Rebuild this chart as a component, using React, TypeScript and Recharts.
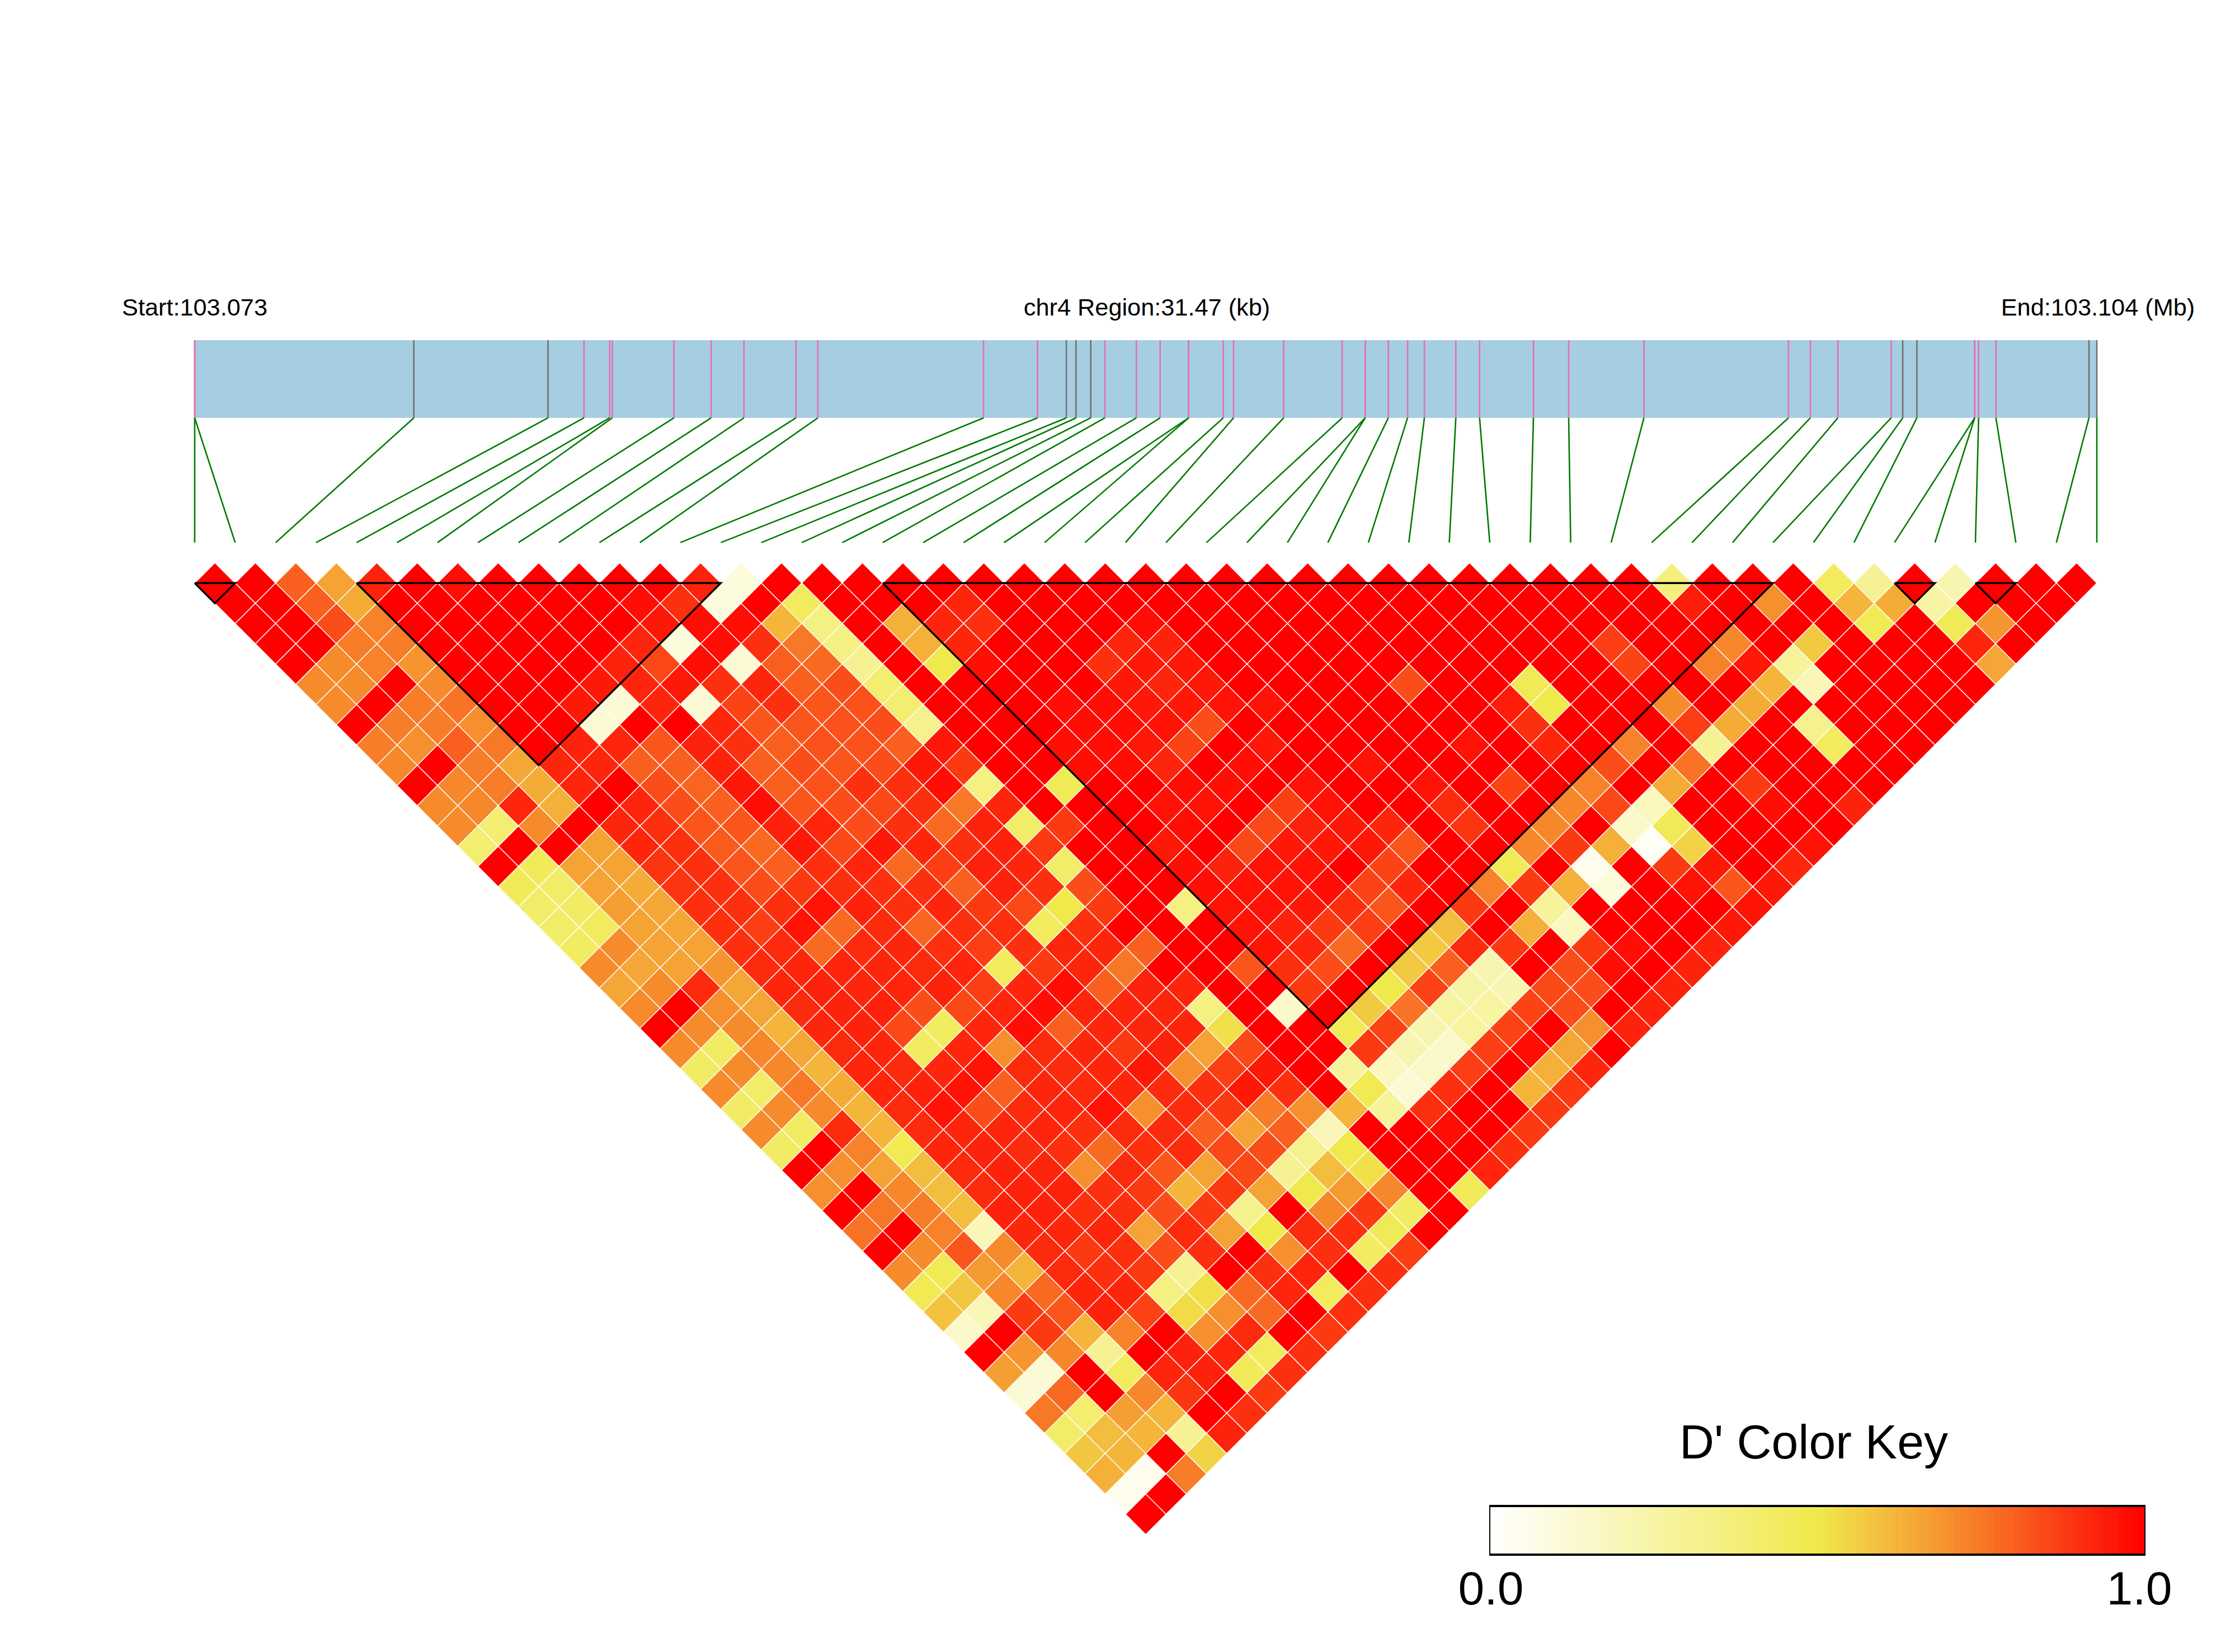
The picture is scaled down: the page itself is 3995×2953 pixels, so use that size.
import { BarChart, Bar, ReferenceArea, Scatter, ScatterChart, XAxis, YAxis, Rectangle } from 'recharts'

// SNP positions along the region, in kb from the region start
const regionKb = 31.47
const snpKb = [
  0, 0, 3.626, 5.846, 6.441, 6.866, 6.909, 7.929, 8.545, 9.087, 9.948, 10.309, 13.051, 13.943, 14.421, 14.581,
  14.825, 15.059, 15.58, 15.973, 16.444, 16.444, 17.018, 17.188, 18.017, 18.984, 19.366, 19.366, 19.748, 20.067,
  20.345, 20.865, 21.258, 22.149, 22.732, 23.977, 26.369, 26.731, 27.186, 28.069, 28.259, 28.493, 29.45, 29.45,
  29.515, 29.801, 31.34, 31.47,
]
const graySnps = [2, 3, 14, 15, 16, 40, 41, 46, 47]

// D' x 100, one row per SNP distance (lag 1 is the top row of the triangle)
const ldByLag = [
  [100,100,80,66,93,100,97,100,100,100,100,100,93,10,100,100,100,100,100,100,100,100,100,100,100,100,100,100,100,100,100,100,100,100,100,100,37,100,100,100,45,30,100,22,100,100,100],
  [100,100,80,64,100,100,100,100,100,100,97,90,10,100,45,100,100,100,92,100,100,100,100,100,100,100,100,100,100,100,100,100,100,100,100,100,94,100,70,100,62,64,25,100,100,100],
  [100,100,84,73,100,100,100,100,100,100,95,97,97,62,35,100,63,92,90,100,100,100,97,100,100,100,100,100,100,100,100,100,100,100,100,100,100,100,100,100,47,100,47,69,100],
  [100,100,74,74,100,100,100,100,100,92,10,97,90,75,35,100,63,92,100,100,100,92,93,100,100,100,100,100,100,100,100,100,100,87,100,100,72,100,57,100,100,100,92,100],
  [100,71,73,69,100,100,100,100,93,85,97,12,80,78,30,100,50,97,100,100,90,95,95,100,100,100,100,100,100,100,100,100,100,86,100,73,95,28,100,100,100,100,65],
  [71,71,100,71,100,100,100,95,92,95,90,92,80,84,40,100,100,100,100,100,95,92,95,100,100,100,100,84,100,100,47,100,100,100,100,100,62,20,100,100,100,100],
  [71,100,74,76,100,100,95,12,92,12,86,90,82,83,40,100,100,100,97,97,95,95,96,96,100,100,100,100,100,94,50,100,100,71,100,64,100,100,100,100,100],
  [100,74,74,70,100,100,12,100,100,92,82,82,83,84,32,100,100,100,97,97,96,84,100,100,100,100,100,100,100,90,100,100,100,87,64,100,32,100,100,100],
  [74,70,80,75,100,93,92,82,93,90,80,83,83,80,95,100,100,97,97,95,86,100,95,100,100,100,100,96,100,92,100,73,100,30,100,100,45,100,100],
  [72,100,74,65,92,92,80,80,93,80,84,82,84,95,88,100,100,97,97,92,100,97,100,100,96,100,100,100,100,100,84,100,76,100,100,100,100,100],
  [100,72,74,64,92,100,84,79,95,80,83,90,90,97,35,100,47,100,100,97,97,100,96,100,100,96,100,86,100,73,100,64,100,88,100,100,100],
  [71,72,92,63,100,92,84,80,97,82,84,85,90,75,92,100,100,100,96,96,100,87,96,100,100,91,100,100,72,85,18,100,100,97,100,93],
  [71,40,71,100,92,90,82,82,93,92,84,90,78,93,42,88,100,100,97,100,85,93,95,92,100,89,100,72,100,15,47,100,100,100,100],
  [40,100,100,66,92,90,81,78,95,85,95,92,90,93,88,100,100,95,100,85,95,95,95,82,100,100,72,88,63,3,55,100,100,96],
  [100,46,66,66,89,90,82,80,90,92,78,87,93,92,42,100,100,97,93,96,96,100,86,100,100,47,100,5,100,88,95,100,92],
  [46,42,66,64,89,90,84,88,90,90,90,80,93,90,84,100,100,97,96,96,97,86,92,100,73,88,63,10,100,96,82,95],
  [42,43,67,65,90,90,90,96,93,90,92,88,85,50,88,100,35,96,96,95,90,82,100,88,100,28,100,100,100,100,96],
  [42,45,66,65,90,87,96,78,91,79,90,90,45,90,100,100,100,96,93,88,87,100,60,100,63,18,100,100,100,95],
  [44,71,66,66,90,91,78,91,92,90,87,90,92,92,80,100,100,96,92,78,100,57,91,88,100,88,97,100,93],
  [71,65,66,69,91,92,92,92,91,92,45,88,92,75,100,100,82,90,84,100,57,80,22,100,84,97,100,93],
  [65,71,91,65,92,93,92,92,93,87,92,97,80,93,92,100,100,88,100,50,86,25,22,85,84,100,93],
  [71,100,70,65,91,93,93,84,85,92,97,92,92,92,35,100,15,100,57,76,26,26,86,84,100,93],
  [100,71,71,62,92,93,85,44,92,97,80,92,92,92,52,100,100,47,86,22,27,86,100,70,93],
  [71,43,72,65,91,92,44,92,70,91,92,88,93,66,85,100,100,88,22,15,87,97,65,100],
  [43,71,72,62,92,91,92,96,91,91,92,95,70,87,95,100,28,18,15,87,100,63,92],
  [71,42,75,64,92,93,96,80,92,91,92,91,90,95,90,100,48,12,90,100,62,88],
  [43,71,71,62,91,96,84,91,92,96,70,91,88,74,70,62,28,90,100,100,88],
  [71,43,91,62,91,92,92,92,90,91,91,80,66,80,20,100,100,97,100,88],
  [43,100,73,48,92,93,91,90,78,90,91,85,84,32,50,100,100,100,90],
  [100,70,66,60,91,93,92,70,91,82,66,85,30,60,52,100,100,92],
  [70,100,72,60,91,93,93,90,88,62,88,66,50,68,72,100,46],
  [100,75,74,60,93,93,90,90,84,88,32,100,72,88,43,100],
  [76,100,73,20,92,92,92,66,91,66,50,91,90,47,100],
  [100,71,82,71,91,88,90,84,90,100,70,90,44,87],
  [71,48,68,62,91,90,88,30,100,90,92,100,90],
  [48,58,72,78,92,92,35,52,78,92,45,90],
  [59,20,88,82,93,86,53,70,78,100,90],
  [15,100,88,62,73,100,70,91,100,88],
  [100,69,72,30,100,93,92,45,90],
  [67,12,100,45,92,93,46,90],
  [12,78,100,72,89,100,88],
  [75,40,67,62,100,90],
  [42,60,62,30,93],
  [58,62,100,55],
  [63,5,74],
  [5,100],
  [100],
]

// haplotype blocks, first and last SNP index
const blocks = [[0, 1], [4, 13], [17, 39], [42, 43], [44, 45]]

const keyLevels = [
  0, 1, 2, 3, 4, 5, 6, 7, 8, 9, 10, 11, 12, 13, 14, 15, 16, 17, 18, 19, 20, 21, 22, 23, 24, 25, 26, 27, 28, 29, 30, 31, 32, 33,
  34, 35, 36, 37, 38, 39, 40, 41, 42, 43, 44, 45, 46, 47, 48, 49, 50, 51, 52, 53, 54, 55, 56, 57, 58, 59, 60, 61, 62, 63, 64,
  65, 66, 67, 68, 69, 70, 71, 72, 73, 74, 75, 76, 77, 78, 79, 80, 81, 82, 83, 84, 85, 86, 87, 88, 89, 90, 91, 92, 93, 94, 95,
  96, 97, 98, 99,
]

const WIDTH = 3995
const HEIGHT = 2953
const MARGIN = { top: 608, left: 348, right: 247, bottom: 210 }
const CELL_W = (WIDTH - MARGIN.left - MARGIN.right) / 47 / 2
const CELL_H = (HEIGHT - MARGIN.top - MARGIN.bottom) / 59
const TRACK_TOP = -11
const TRACK_BOTTOM = -7.16
const LINK_BOTTOM = -1
const FONT = '"Liberation Sans", Arial, sans-serif'

const ramp = [
  [0, 255, 255, 255],
  [0.5, 240, 233, 76],
  [0.667, 245, 160, 51],
  [1, 255, 0, 0],
]

function ldColor(d: number) {
  for (let s = 1; s < ramp.length; s++) {
    if (d <= ramp[s][0]) {
      const [a, b] = [ramp[s - 1], ramp[s]]
      const t = (d - a[0]) / (b[0] - a[0])
      const mix = (c: number) => Math.round(a[c] + (b[c] - a[c]) * t)
      return `rgb(${mix(1)},${mix(2)},${mix(3)})`
    }
  }
  return 'rgb(255,0,0)'
}

const snpX = (kb: number) => (kb / regionKb) * 47

const cells = ldByLag.flatMap((row, lag) =>
  row.map((d, i) => ({ x: i + (lag + 1) / 2, y: lag + 1, d })),
)

function Diamond(props: any) {
  const { cx, cy, payload } = props
  const pts = `${cx},${cy - CELL_H} ${cx + CELL_W},${cy} ${cx},${cy + CELL_H} ${cx - CELL_W},${cy}`
  return <polygon points={pts} fill={ldColor(payload.d / 100)} stroke="#fff" strokeWidth={1.4} />
}

const noDot = () => null

function ColorKey() {
  const data = keyLevels.map((level) => ({ level, span: 1 }))
  return (
    <div
      style={{
        position: 'absolute',
        left: 2662,
        top: 2690,
        width: 1173,
        height: 91,
        boxSizing: 'border-box',
        borderStyle: 'solid',
        borderColor: '#000',
        borderWidth: '4px 2px',
      }}
    >
      <BarChart width={1169} height={83} data={data} margin={{ top: 0, right: 0, bottom: 0, left: 0 }} barCategoryGap={0}>
        <XAxis dataKey="level" hide />
        <YAxis domain={[0, 1]} hide />
        <Bar
          dataKey="span"
          isAnimationActive={false}
          shape={(p: any) => {
            const c = ldColor((p.payload.level + 0.5) / 100)
            return <Rectangle x={p.x} y={p.y} width={p.width} height={p.height} fill={c} stroke={c} strokeWidth={0.5} />
          }}
        />
      </BarChart>
    </div>
  )
}

export default function App() {
  return (
    <div style={{ position: 'absolute', left: 0, top: 0, width: WIDTH, height: HEIGHT, background: '#fff', overflow: 'hidden' }}>
      <ScatterChart width={WIDTH} height={HEIGHT} margin={MARGIN}>
        <XAxis type="number" dataKey="x" domain={[0, 47]} hide />
        <YAxis type="number" dataKey="y" domain={[TRACK_TOP, 48]} reversed hide />

        <ReferenceArea x1={0} x2={47} y1={TRACK_TOP} y2={TRACK_BOTTOM} fill="#A6CEE3" fillOpacity={1} stroke="none" />

        {snpKb.map((kb, i) => (
          <Scatter
            key={`tick-${i}`}
            data={[{ x: snpX(kb), y: TRACK_TOP }, { x: snpX(kb), y: TRACK_BOTTOM }]}
            line={{ stroke: graySnps.includes(i) ? '#707070' : '#E76FB0', strokeWidth: 2.6 }}
            shape={noDot}
            isAnimationActive={false}
          />
        ))}
        {snpKb.map((kb, i) => (
          <Scatter
            key={`link-${i}`}
            data={[{ x: snpX(kb), y: TRACK_BOTTOM }, { x: i, y: LINK_BOTTOM }]}
            line={{ stroke: '#007a00', strokeWidth: 2.6 }}
            shape={noDot}
            isAnimationActive={false}
          />
        ))}

        <Scatter data={cells} shape={Diamond} isAnimationActive={false} />

        {blocks.map(([a, b]) => (
          <Scatter
            key={`block-${a}`}
            data={[
              { x: a, y: 1 },
              { x: b, y: 1 },
              { x: (a + b) / 2, y: 1 + (b - a) },
              { x: a, y: 1 },
            ]}
            line={{ stroke: '#000', strokeWidth: 3.4 }}
            shape={noDot}
            isAnimationActive={false}
          />
        ))}

        <text x={348} y={564} textAnchor="middle" fontFamily={FONT} fontSize={43.3}>Start:103.073</text>
        <text x={2050} y={564} textAnchor="middle" fontFamily={FONT} fontSize={43.3}>chr4 Region:31.47 (kb)</text>
        <text x={3750} y={564} textAnchor="middle" fontFamily={FONT} fontSize={43.3}>End:103.104 (Mb)</text>
        <text x={3242} y={2607} textAnchor="middle" fontFamily={FONT} fontSize={86}>D' Color Key</text>
        <text x={2665} y={2868} textAnchor="middle" fontFamily={FONT} fontSize={84}>0.0</text>
        <text x={3824} y={2868} textAnchor="middle" fontFamily={FONT} fontSize={84}>1.0</text>
      </ScatterChart>
      <ColorKey />
    </div>
  )
}
